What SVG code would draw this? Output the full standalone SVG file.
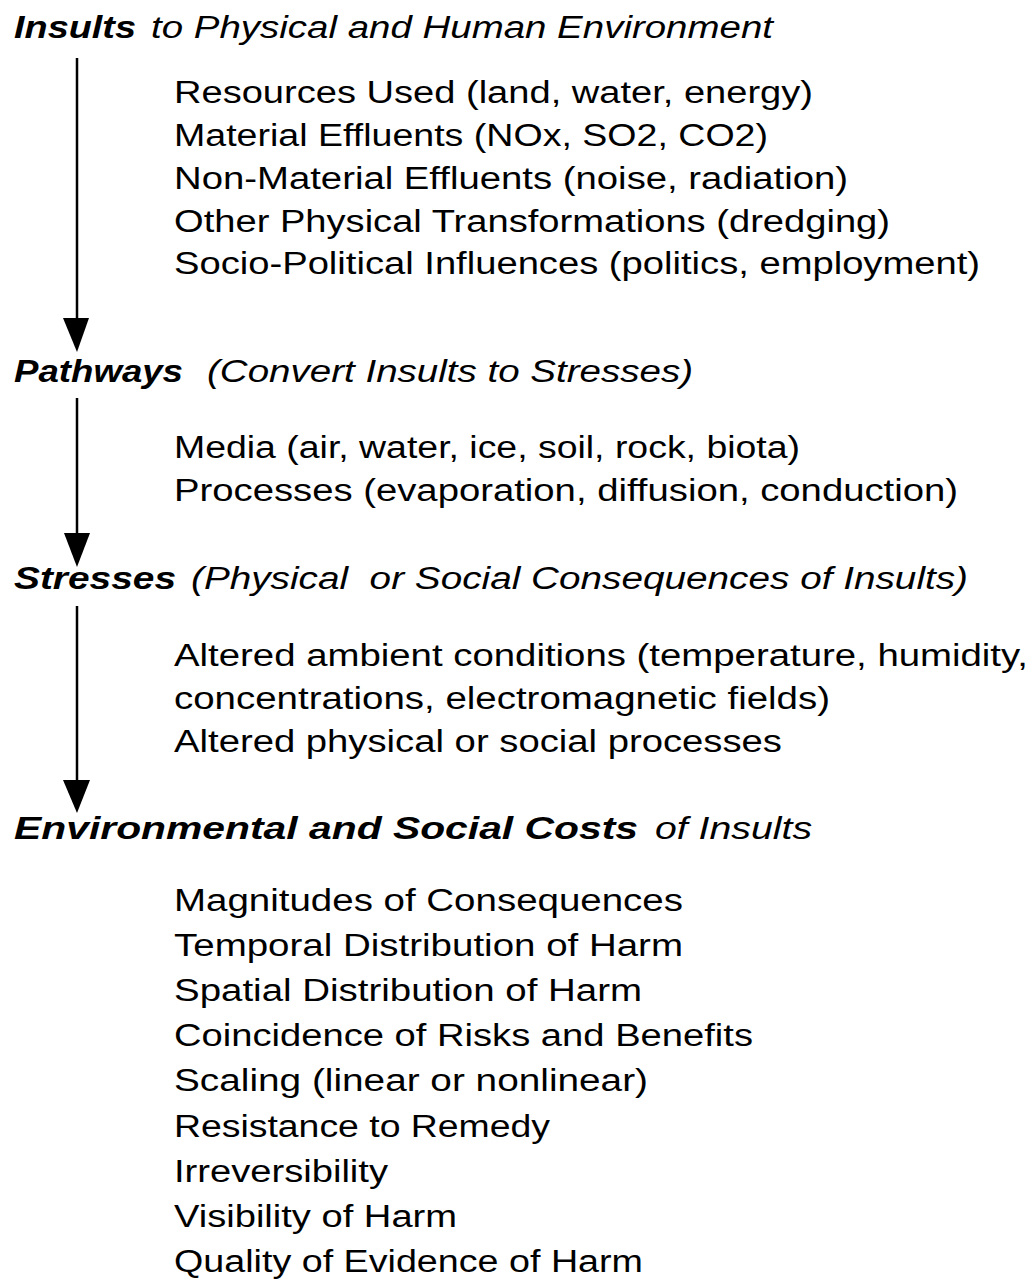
<svg xmlns="http://www.w3.org/2000/svg" width="1032" height="1283" viewBox="0 0 1032 1283">
<style>
.h{font-family:"Liberation Sans",Arial,sans-serif;font-size:31px;font-style:italic;fill:#000}
.b{font-weight:bold}
.t{font-family:"Liberation Sans",Arial,sans-serif;font-size:31px;fill:#000}
.c{stroke:#000;stroke-width:2.5;fill:none}
</style>
<rect width="1032" height="1283" fill="#fff"/>
<g id="connectors">
<line class="c" x1="77" y1="58" x2="77" y2="320"/>
<path d="M63,318 L89,318 L77,352 Z"/>
<line class="c" x1="77" y1="398" x2="77" y2="535"/>
<path d="M64,533 L90,533 L77,567 Z"/>
<line class="c" x1="77" y1="606" x2="77" y2="782"/>
<path d="M63,780 L90,780 L77,813 Z"/>
</g>
<g id="insults">
<text class="h b" x="14" y="38" textLength="122" lengthAdjust="spacingAndGlyphs">Insults</text>
<text class="h" x="151" y="38" textLength="622" lengthAdjust="spacingAndGlyphs">to Physical and Human Environment</text>
<text class="t" x="174" y="103" textLength="639" lengthAdjust="spacingAndGlyphs">Resources Used (land, water, energy)</text>
<text class="t" x="174" y="146" textLength="594" lengthAdjust="spacingAndGlyphs">Material Effluents (NOx, SO2, CO2)</text>
<text class="t" x="174" y="189" textLength="674" lengthAdjust="spacingAndGlyphs">Non-Material Effluents (noise, radiation)</text>
<text class="t" x="174" y="232" textLength="716" lengthAdjust="spacingAndGlyphs">Other Physical Transformations (dredging)</text>
<text class="t" x="174" y="274" textLength="806" lengthAdjust="spacingAndGlyphs">Socio-Political Influences (politics, employment)</text>
</g>
<g id="pathways">
<text class="h b" x="14" y="382" textLength="169" lengthAdjust="spacingAndGlyphs">Pathways</text>
<text class="h" x="207" y="382" textLength="486" lengthAdjust="spacingAndGlyphs">(Convert Insults to Stresses)</text>
<text class="t" x="174" y="458" textLength="626" lengthAdjust="spacingAndGlyphs">Media (air, water, ice, soil, rock, biota)</text>
<text class="t" x="174" y="501" textLength="784" lengthAdjust="spacingAndGlyphs">Processes (evaporation, diffusion, conduction)</text>
</g>
<g id="stresses">
<text class="h b" x="14" y="589" textLength="162" lengthAdjust="spacingAndGlyphs">Stresses</text>
<text class="h" x="191" y="589" textLength="777" lengthAdjust="spacingAndGlyphs" xml:space="preserve">(Physical  or Social Consequences of Insults)</text>
<text class="t" x="174" y="666" textLength="854" lengthAdjust="spacingAndGlyphs">Altered ambient conditions (temperature, humidity,</text>
<text class="t" x="174" y="709" textLength="656" lengthAdjust="spacingAndGlyphs">concentrations, electromagnetic fields)</text>
<text class="t" x="174" y="752" textLength="608" lengthAdjust="spacingAndGlyphs">Altered physical or social processes</text>
</g>
<g id="costs">
<text class="h b" x="14" y="839" textLength="624" lengthAdjust="spacingAndGlyphs">Environmental and Social Costs</text>
<text class="h" x="655" y="839" textLength="157" lengthAdjust="spacingAndGlyphs">of Insults</text>
<text class="t" x="174" y="911" textLength="509" lengthAdjust="spacingAndGlyphs">Magnitudes of Consequences</text>
<text class="t" x="174" y="956" textLength="509" lengthAdjust="spacingAndGlyphs">Temporal Distribution of Harm</text>
<text class="t" x="174" y="1001" textLength="468" lengthAdjust="spacingAndGlyphs">Spatial Distribution of Harm</text>
<text class="t" x="174" y="1046" textLength="579" lengthAdjust="spacingAndGlyphs">Coincidence of Risks and Benefits</text>
<text class="t" x="174" y="1091" textLength="474" lengthAdjust="spacingAndGlyphs">Scaling (linear or nonlinear)</text>
<text class="t" x="174" y="1137" textLength="376" lengthAdjust="spacingAndGlyphs">Resistance to Remedy</text>
<text class="t" x="174" y="1182" textLength="214" lengthAdjust="spacingAndGlyphs">Irreversibility</text>
<text class="t" x="174" y="1227" textLength="283" lengthAdjust="spacingAndGlyphs">Visibility of Harm</text>
<text class="t" x="174" y="1272" textLength="469" lengthAdjust="spacingAndGlyphs">Quality of Evidence of Harm</text>
</g>
</svg>
